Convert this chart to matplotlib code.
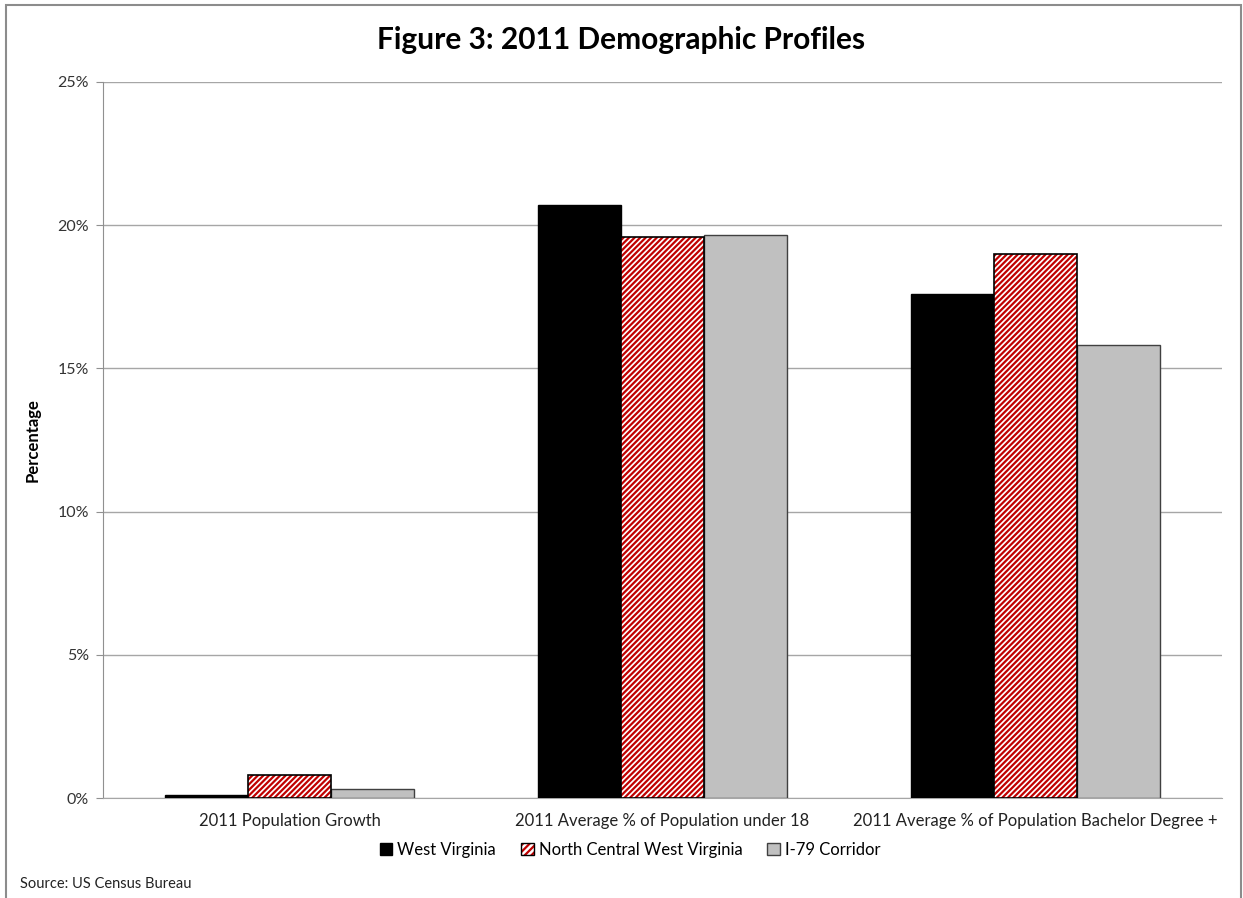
import numpy as np
import matplotlib.pyplot as plt
from matplotlib.patches import Patch, Rectangle
from matplotlib.legend_handler import HandlerTuple

plt.rcParams['font.family'] = ['Lato', 'DejaVu Sans']
plt.rcParams['hatch.linewidth'] = 1.6

categories = ['2011 Population Growth',
              '2011 Average % of Population under 18',
              '2011 Average % of Population Bachelor Degree +']
series_names = ['West Virginia', 'North Central West Virginia', 'I-79 Corridor']
west_virginia = [0.1, 20.7, 17.6]
north_central = [0.8, 19.6, 19.0]
i79_corridor = [0.3, 19.65, 15.8]
y_ticks = [0, 5, 10, 15, 20, 25]

fig = plt.figure(figsize=(12.43, 8.98), dpi=100)
ax = fig.add_axes([103 / 1243, 100 / 898, 1119 / 1243, 716 / 898])

x = np.arange(len(categories))
w = 0.222
red = '#c00000'

ax.bar(x - w, west_virginia, w, color='black', edgecolor='black', linewidth=1, zorder=3)
# hatched bar: red stripes, then black outline on top
ax.bar(x, north_central, w, color='white', edgecolor=red, hatch='//////', linewidth=0, zorder=3)
ax.bar(x, north_central, w, fill=False, edgecolor='black', linewidth=1.2, zorder=4)
ax.bar(x + w, i79_corridor, w, color='#c0c0c0', edgecolor='#404040', linewidth=1, zorder=3)

ax.set_xlim(-0.5, 2.5)
ax.set_ylim(0, 25)
ax.set_yticks(y_ticks)
ax.set_yticklabels([f'{t}%' for t in y_ticks], fontsize=11.5, color='#333333')
ax.set_xticks(x)
ax.set_xticklabels(categories, fontsize=12, color='#222222')
ax.tick_params(axis='x', length=0, pad=11)
ax.tick_params(axis='y', length=5, color='#909090', pad=5)
ax.yaxis.grid(True, color='#a6a6a6', linewidth=1, zorder=0)
for s in ['top', 'right']:
    ax.spines[s].set_visible(False)
ax.spines['left'].set_color('#909090')
ax.spines['bottom'].set_color('#a6a6a6')

ax.set_ylabel('Percentage', fontsize=12, fontweight='bold', labelpad=12)
fig.text(0.5, 1 - 40 / 898, 'Figure 3: 2011 Demographic Profiles', fontsize=21.5,
         fontweight='bold', ha='center', va='center')

handles = [
    Patch(facecolor='black', edgecolor='black'),
    (Patch(facecolor='white', edgecolor=red, hatch='/////', linewidth=0),
     Patch(fill=False, edgecolor='black', linewidth=1)),
    Patch(facecolor='#c0c0c0', edgecolor='#404040'),
]
fig.legend(handles, series_names, loc='center', bbox_to_anchor=(0.507, 1 - 850 / 898),
           ncol=3, frameon=False, fontsize=12, handlelength=0.75, handleheight=0.75,
           handletextpad=0.3, columnspacing=1.5,
           handler_map={tuple: HandlerTuple(ndivide=1, pad=0)})

fig.text(20 / 1243, 1 - 884 / 898, 'Source: US Census Bureau', fontsize=10.5,
         ha='left', va='center', color='#222222')

# outer chart frame
fig.add_artist(Rectangle((6 / 1243, -0.01), 1235 / 1243, 1 - 5 / 898 + 0.01,
                         transform=fig.transFigure, fill=False,
                         edgecolor='#8c8c8c', linewidth=1.5))

fig.savefig('out.png', dpi=100)
